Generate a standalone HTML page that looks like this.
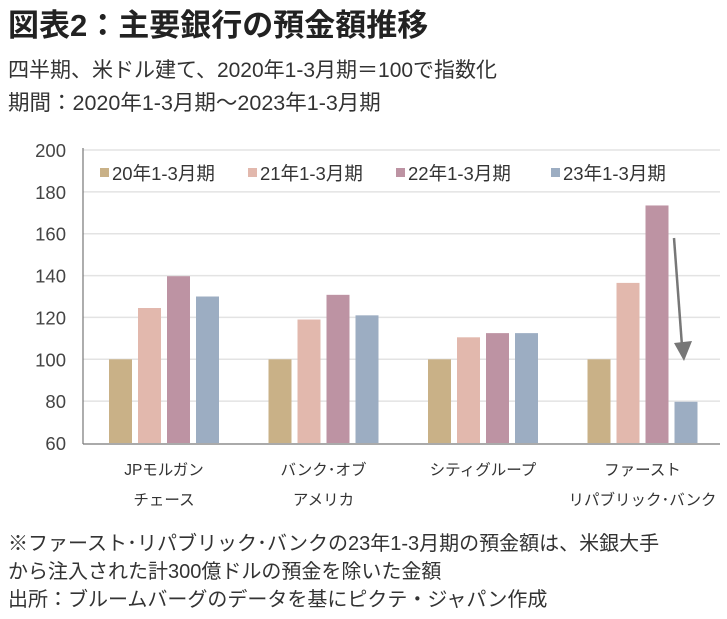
<!DOCTYPE html>
<html><head><meta charset="utf-8"><style>
body{margin:0;width:727px;height:619px;background:#fff;overflow:hidden;font-family:"Liberation Sans","Noto Sans CJK JP",sans-serif;color:#333}
.t{position:absolute;left:8px;white-space:nowrap}
</style></head><body>
<div class="t" style="top:0px;font-size:31px;font-weight:bold;color:#222">図表2：主要銀行の預金額推移</div>
<div class="t" style="top:54px;font-size:21px">四半期、米ドル建て、2020年1-3月期＝100で指数化</div>
<div class="t" style="top:86px;font-size:21.5px">期間：2020年1-3月期～2023年1-3月期</div>
<svg id="c" width="727" height="619" style="position:absolute;left:0;top:0" font-family="Liberation Sans, Noto Sans CJK JP, sans-serif"></svg>
<div class="t" style="top:530px;font-size:20px;line-height:28px">※ファースト･リパブリック･バンクの23年1-3月期の預金額は、米銀大手<br>から注入された計300億ドルの預金を除いた金額<br>出所：ブルームバーグのデータを基にピクテ・ジャパン作成</div>
<script>
const categories=[["JPモルガン","チェース"],["バンク･オブ","アメリカ"],["シティグループ"],["ファースト","リパブリック･バンク"]];
const seriesNames=["20年1-3月期","21年1-3月期","22年1-3月期","23年1-3月期"];
const s20=[100,100,100,100];
const s21=[124.5,119,110.5,136.5];
const s22=[139.7,130.8,112.5,173.5];
const s23=[130,121,112.5,79.7];
const ticks=[60,80,100,120,140,160,180,200];
const colors=["#c9b187","#e2b8ad","#bd93a3","#9cadc2"];
const svg=document.getElementById('c');const NS="http://www.w3.org/2000/svg";
function mk(t,a,p){const e=document.createElementNS(NS,t);for(const k in a)e.setAttribute(k,a[k]);(p||svg).appendChild(e);return e;}
const y=v=>443-(v-60)*(293/140);
const gx=i=>109+i*159.5;
const bx=(i,j)=>gx(i)+j*29;
ticks.forEach(t=>{
 if(t>60){const l=mk('line',{x1:83,x2:720,y1:y(t),y2:y(t),stroke:'#e3e3e3','stroke-width':1.5});
 
 }
 const tx=mk('text',{x:66,y:y(t)+7,'text-anchor':'end','font-size':18.5,fill:'#444'});tx.textContent=t;
 
 
});
const all=[s20,s21,s22,s23];
all.forEach((s,j)=>s.forEach((v,i)=>{
 const r=mk('rect',{x:bx(i,j),y:y(v),width:23,height:y(60)-y(v),fill:colors[j]});
 
 
}));
const ax=mk('line',{x1:83,x2:83,y1:148,y2:444,stroke:'#777','stroke-width':1.2});


const xa=mk('line',{x1:83,x2:720,y1:444,y2:444,stroke:'#777','stroke-width':1.2});


categories.forEach((c,i)=>{c.forEach((ln,k)=>{
 const tx=mk('text',{x:gx(i)+55,y:475+k*30,'text-anchor':'middle','font-size':15.5,fill:'#333'});tx.textContent=ln;
 
 
});});
const lx=[100,248,396,551];
seriesNames.forEach((n,j)=>{
 const g=mk('g',{});
 
 
 mk('rect',{x:lx[j],y:168,width:9,height:9,fill:colors[j]},g);
 const tx=mk('text',{x:lx[j]+12,y:180,'font-size':18.5,fill:'#333'},g);tx.textContent=n;
});
const ar=mk('g',{});


mk('line',{x1:674,y1:238,x2:682,y2:346,stroke:'#777','stroke-width':2.5},ar);
mk('polygon',{points:'674,343 692,341 684,361',fill:'#777'},ar);
</script>
</body></html>
